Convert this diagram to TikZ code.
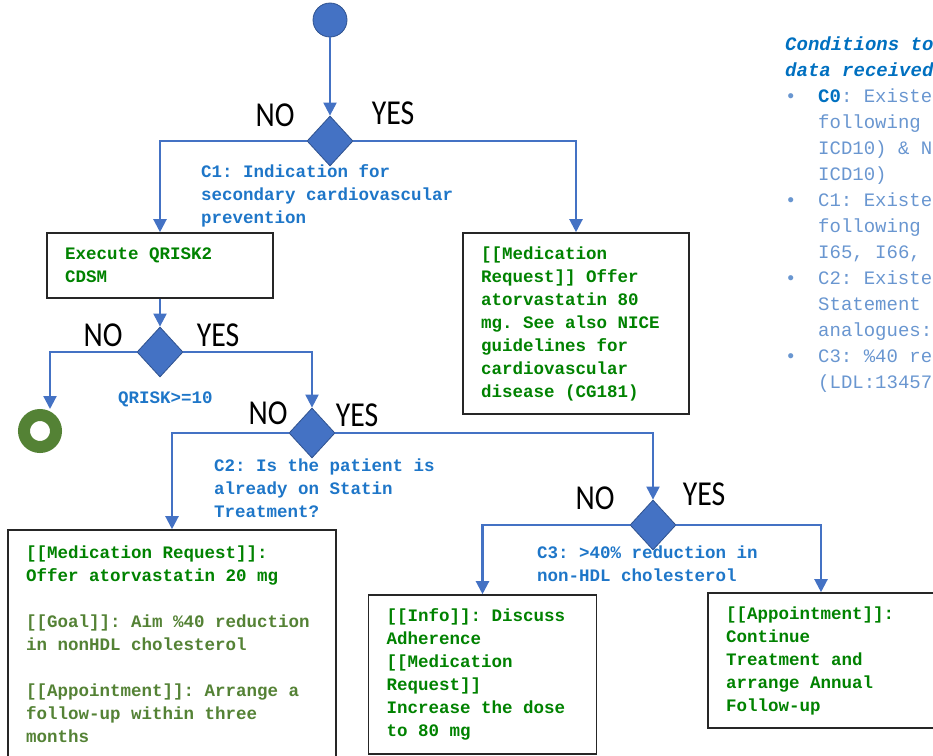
\documentclass[tikz,border=0pt]{standalone}
\usepackage{fontspec}
\usepackage{tikz}
\usetikzlibrary{arrows.meta,shapes.geometric,positioning}
\setmainfont{Liberation Mono}
\newfontfamily\ynfont[FakeStretch=0.85]{Carlito}
\definecolor{lblue}{RGB}{68,114,196}
\definecolor{dblue}{RGB}{47,82,143}
\definecolor{cblue}{RGB}{30,118,200}
\definecolor{pblue}{RGB}{105,150,208}
\definecolor{tblue}{RGB}{0,112,192}
\definecolor{tgreen}{RGB}{0,130,0}
\definecolor{ogreen}{RGB}{84,130,53}
\tikzstyle{mono} = [execute at begin node={\spaceskip=\fontdimen2\font\xspaceskip=\fontdimen2\font\relax}]
\tikzstyle{dec} = [diamond, fill=lblue, draw=dblue, line width=0.8pt, minimum width=46pt, minimum height=50pt, inner sep=0pt]
\tikzstyle{act} = [mono, rectangle, draw=black!85, line width=1.6pt, fill=white, text=tgreen, inner xsep=18pt, align=left, font=\fontsize{17.5}{23}\selectfont\bfseries]
\tikzstyle{cnd} = [mono, text=cblue, align=left, inner sep=0pt, anchor=north west, font=\fontsize{17.5}{23}\selectfont\bfseries]
\tikzstyle{lbl} = [black, inner sep=0pt, font=\ynfont\fontsize{35}{35}\selectfont]
\tikzstyle{h} = [lblue, line width=2.2pt, -{Triangle[length=13pt,width=13pt]}]

\begin{document}
\begin{tikzpicture}[x=1pt,y=-1pt]
		\useasboundingbox (0,0) rectangle (933,755);
		\clip (0,0) rectangle (933,755);

		% flow nodes
		\node[circle, fill=lblue, draw=dblue, line width=0.8pt, minimum size=34pt, inner sep=0pt] (start) at (330,20) {};
		\node[dec] (c1) at (330,141) {};
		\node[act, minimum width=226pt, minimum height=65pt, text width=190pt] (qrisk) at (160,265.5) {Execute QRISK2\\CDSM};
		\node[act, minimum width=226pt, minimum height=181pt, text width=190pt] (med80) at (576,323.5) {[[Medication\\Request]] Offer\\atorvastatin 80\\mg. See also NICE\\guidelines for\\cardiovascular\\disease (CG181)};
		\node[dec] (qr) at (160,352) {};
		\node[circle, draw=ogreen, line width=12pt, outer sep=6pt, minimum size=32pt, inner sep=0pt] (stop) at (40,431) {};
		\node[dec] (c2) at (312,433) {};
		\node[act, minimum width=328pt, minimum height=228pt, text width=292pt] (med20) at (172,644) {[[Medication Request]]:\\Offer atorvastatin 20 mg\\[23pt]\color{ogreen}{}[[Goal]]: Aim \%40 reduction\\in nonHDL cholesterol\\[23pt]{}[[Appointment]]: Arrange a\\follow-up within three\\months};
		\node[dec] (c3) at (653,525) {};
		\node[act, minimum width=228pt, minimum height=159pt, text width=192pt] (info) at (482.5,674.5) {[[Info]]: Discuss\\Adherence\\{}[[Medication\\Request]]\\Increase the dose\\to 80 mg};
		\node[act, minimum width=226pt, minimum height=135pt, text width=190pt] (appt) at (821,660.5) {[[Appointment]]:\\Continue\\Treatment and\\arrange Annual\\Follow-up};

		% conditions
		\node[cnd] (t1) at (201,164) {C1: Indication for\\secondary cardiovascular\\prevention};
		\node[cnd] (t0) at (118,392) {QRISK>=10};
		\node[cnd] (t2) at (214,459) {C2: Is the patient is\\already on Statin\\Treatment?};
		\node[cnd] (t3) at (537,546) {C3: >40\% reduction in\\non-HDL cholesterol};

		% yes / no
		\node[lbl] (n1) at (275,115) {NO};
		\node[lbl] (y1) at (393,113) {YES};
		\node[lbl] (n2) at (103,335) {NO};
		\node[lbl] (y2) at (218,335) {YES};
		\node[lbl] (n3) at (268,413) {NO};
		\node[lbl] (y3) at (357,415) {YES};
		\node[lbl] (n4) at (595,498) {NO};
		\node[lbl] (y4) at (704,494) {YES};

		% connectors
		\draw[h] (start) -- (c1);
		\draw[h] (c1.west) -| (qrisk.north);
		\draw[h] (c1.east) -| (med80.north);
		\draw[h] (qrisk) -- (qr);
		\draw[h] (qr.west) -| ([xshift=10pt]stop.north);
		\draw[h] (qr.east) -| (c2.north);
		\draw[h] (c2.west) -| (med20.north);
		\draw[h] (c2.east) -| (c3.north);
		\draw[h] (c3.west) -| (info.north);
		\draw[h] (c3.east) -| (appt.north);

		% legend
		\node[mono, anchor=north west, align=left, inner sep=0pt, text=pblue, font=\fontsize{19}{26}\selectfont] (legend) at (785,37) {%
			{\color{tblue}\bfseries\itshape Conditions to}\\
			{\color{tblue}\bfseries\itshape data received}\\
			\makebox[33pt][l]{\textbullet}{\color{tblue}\bfseries C0}: Existence\\
			\hspace*{33pt}following\\
			\hspace*{33pt}ICD10) \& N\\
			\hspace*{33pt}ICD10)\\
			\makebox[33pt][l]{\textbullet}C1: Existence\\
			\hspace*{33pt}following\\
			\hspace*{33pt}I65, I66,\\
			\makebox[33pt][l]{\textbullet}C2: Existence\\
			\hspace*{33pt}Statement\\
			\hspace*{33pt}analogues:\\
			\makebox[33pt][l]{\textbullet}C3: \%40 reduction\\
			\hspace*{33pt}(LDL:13457};
	\end{tikzpicture}
\end{document}
